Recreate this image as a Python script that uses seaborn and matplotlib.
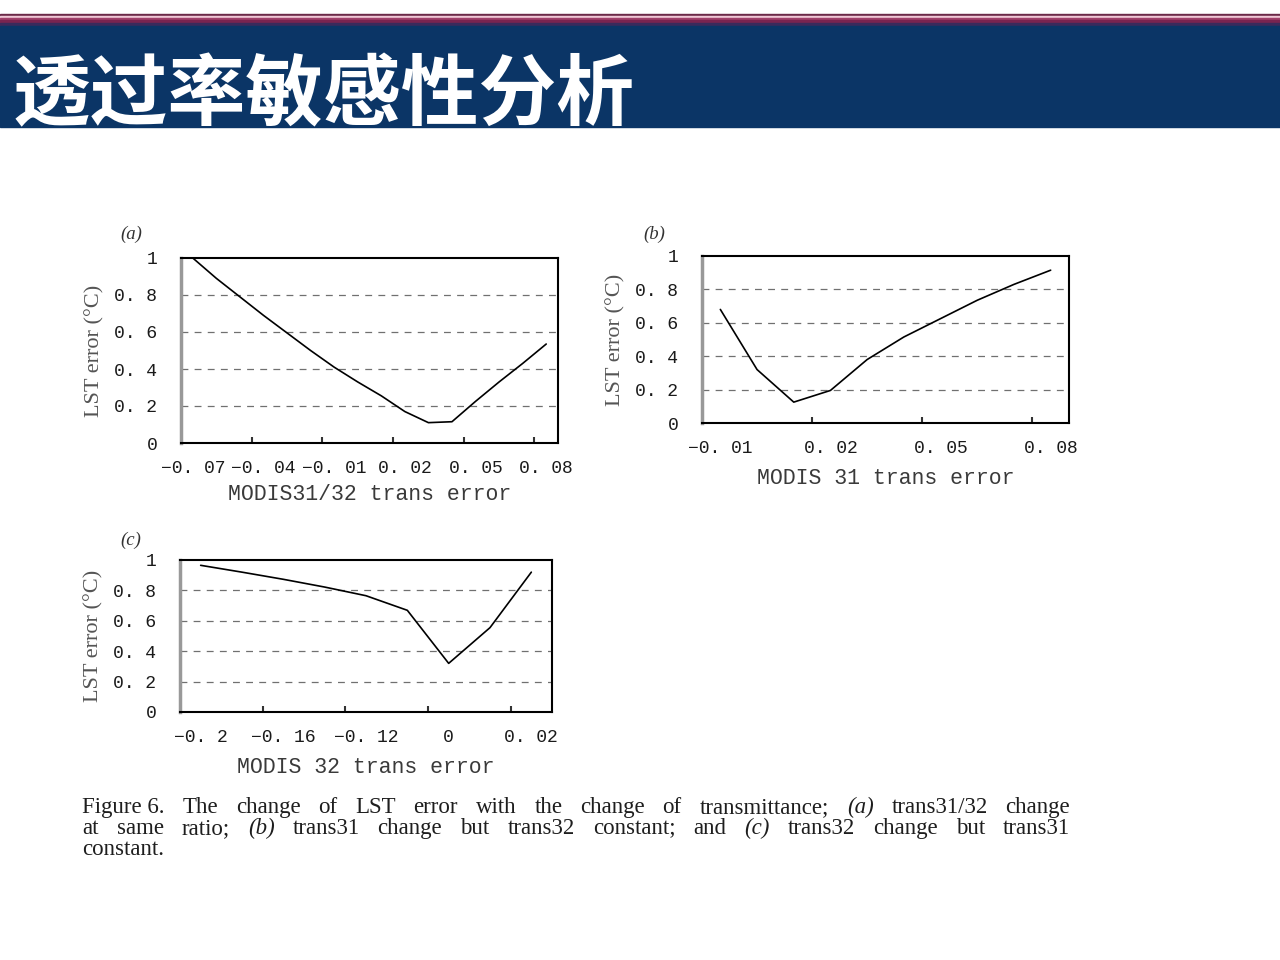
import matplotlib
matplotlib.use("Agg")
import matplotlib.pyplot as plt
from matplotlib.patches import Rectangle
import seaborn as sns
import pandas as pd

# ---------------- data ----------------
title_text = "透过率敏感性分析"

cats_a = ["-0.07", "-0.06", "-0.05", "-0.04", "-0.03", "-0.02", "-0.01", "0.00",
          "0.01", "0.02", "0.03", "0.04", "0.05", "0.06", "0.07", "0.08"]
vals_a = [1.00, 0.89, 0.79, 0.69, 0.595, 0.50, 0.41, 0.33,
          0.255, 0.17, 0.11, 0.115, 0.225, 0.33, 0.43, 0.535]
ticklabels_a = ["−0. 07", "−0. 04", "−0. 01", "0. 02", "0. 05", "0. 08"]

cats_b = ["-0.01", "0.00", "0.01", "0.02", "0.03", "0.04", "0.05", "0.06", "0.07", "0.08"]
vals_b = [0.68, 0.32, 0.125, 0.195, 0.38, 0.515, 0.625, 0.735, 0.83, 0.915]
ticklabels_b = ["−0. 01", "0. 02", "0. 05", "0. 08"]

cats_c = ["-0.2", "-0.18", "-0.16", "-0.14", "-0.12", "-0.04", "0", "0.01", "0.02"]
vals_c = [0.965, 0.92, 0.873, 0.822, 0.765, 0.669, 0.32, 0.555, 0.92]
ticklabels_c = ["−0. 2", "−0. 16", "−0. 12", "0", "0. 02"]

ytick_vals = [0, 0.2, 0.4, 0.6, 0.8, 1.0]
ytick_labels = ["0", "0. 2", "0. 4", "0. 6", "0. 8", "1"]

xlabels = ["MODIS31/32 trans error", "MODIS 31 trans error", "MODIS 32 trans error"]
panel_labels = ["(a)", "(b)", "(c)"]
ylabel = "LST error (°C)"

caption_lines = [
    "Figure\u00a06. The change of LST error with the change of transmittance; (a) trans31/32 change",
    "at same ratio; (b) trans31 change but trans32 constant; and (c) trans32 change but trans31",
    "constant.",
]
caption_italic_words = ["(a)", "(b)", "(c)"]

# ---------------- style ----------------
sns.set_style("white")
plt.rcParams["font.family"] = ["Liberation Serif", "DejaVu Sans"]

W, H = 1280, 960
fig = plt.figure(figsize=(W / 100, H / 100), dpi=100)
fig.patch.set_facecolor("white")


def frac_rect(x0, y0, x1, y1):
    return [x0 / W, 1 - y1 / H, (x1 - x0) / W, (y1 - y0) / H]


# title bar with stripes
stripes = [
    (14, 16, "#6b2a48"),
    (16, 18, "#f0c8d6"),
    (18, 20, "#a0406a"),
    (20, 23, "#7a2450"),
    (23, 26, "#3a2a5c"),
    (26, 127, "#0b3566"),
]
for y0, y1, c in stripes:
    fig.patches.append(Rectangle((0, 1 - y1 / H), 1, (y1 - y0) / H,
                                 transform=fig.transFigure, color=c, zorder=0))
fig.text(13 / W, 1 - 97 / H, title_text, color="white", fontsize=56, fontweight="bold",
         family=["Noto Sans CJK SC", "DejaVu Sans"], va="center", ha="left")

panels = [
    (frac_rect(181, 258, 558, 443), cats_a, vals_a, ticklabels_a, 3),
    (frac_rect(702, 256, 1069, 423), cats_b, vals_b, ticklabels_b, 3),
    (frac_rect(180, 560, 552, 712), cats_c, vals_c, ticklabels_c, 2),
]

mono = ["Liberation Mono", "DejaVu Sans Mono"]

for i, (rect, cats, vals, tlabels, step) in enumerate(panels):
    ax = fig.add_axes(rect)
    df = pd.DataFrame({"x": cats, "y": vals})
    sns.lineplot(data=df, x="x", y="y", ax=ax, color="black", linewidth=1.2, sort=False)
    n = len(cats)
    ax.set_xlim(-0.5, n - 0.5)
    ax.set_ylim(0, 1)
    for yv in ytick_vals[1:-1]:
        ax.axhline(yv, color="#707070", linewidth=0.9, dashes=(5.5, 5), zorder=0)
    ax.set_yticks(ytick_vals)
    ax.set_yticklabels(ytick_labels, family=mono, fontsize=13, color="#1a1a1a")
    major = list(range(0, n, step))
    ax.set_xticks(major)
    ax.set_xticklabels(tlabels, family=mono, fontsize=13, color="#1a1a1a")
    minor = [k * step - 0.5 for k in range(1, (n + step - 1) // step)]
    ax.set_xticks(minor, minor=True)
    ax.tick_params(axis="x", which="major", length=0, pad=12)
    ax.tick_params(axis="y", which="major", length=0, pad=17)
    ax.tick_params(axis="x", which="minor", direction="in", length=4, width=1.5,
                   color="#333333", bottom=True)
    ax.set_xlabel(xlabels[i], family=mono, fontsize=15.5, color="#3a3a3a",
                  labelpad=5 if i == 0 else 8)
    ax.set_ylabel(ylabel, fontsize=16, color="#555555", labelpad=7)
    for s in ["top", "right", "bottom"]:
        ax.spines[s].set_visible(True)
        ax.spines[s].set_color("black")
        ax.spines[s].set_linewidth(1.5)
    ax.spines["left"].set_visible(True)
    ax.spines["left"].set_color("#999999")
    ax.spines["left"].set_linewidth(2.5)
    ax.grid(False)
    ax.text(-0.16, 1.13, panel_labels[i], transform=ax.transAxes, fontsize=13.5,
            fontstyle="italic", color="#333333", ha="left", va="center")

# justified caption
renderer = fig.canvas.get_renderer()
x_left, x_right = 82, 1070
for j, line in enumerate(caption_lines):
    y = 1 - (813 + 21 * j) / H
    words = [w for w in line.split(" ") if w]
    texts = []
    for w in words:
        style = "italic" if w in caption_italic_words else "normal"
        t = fig.text(0, y, w, fontsize=16.5, color="#1e1e1e", ha="left", va="baseline",
                     fontstyle=style)
        texts.append(t)
    widths = [t.get_window_extent(renderer).width for t in texts]
    justify = j < len(caption_lines) - 1
    if justify and len(words) > 1:
        gap = (x_right - x_left - sum(widths)) / (len(words) - 1)
    else:
        gap = 5
    x = x_left
    for t, wd in zip(texts, widths):
        t.set_x(x / W)
        x += wd + gap

fig.savefig("out.png", dpi=100)
